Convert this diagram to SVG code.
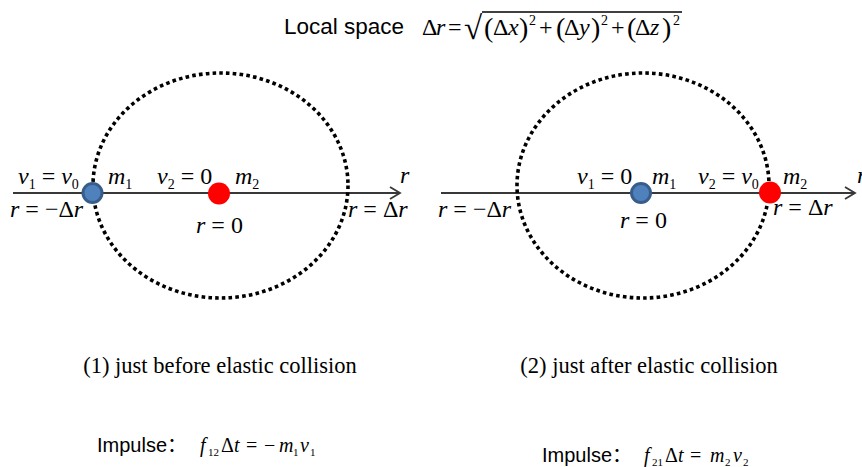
<svg xmlns="http://www.w3.org/2000/svg" width="862" height="467" viewBox="0 0 862 467">
<defs>
<style>
.sans{font-family:"Liberation Sans",Arial,"Noto Sans CJK SC",sans-serif;fill:#000}
.m{font-family:"Liberation Serif","Times New Roman",serif;font-size:24px;fill:#000}
.f{font-family:"Liberation Serif","Times New Roman",serif;font-size:20px;fill:#000}
.cap{font-family:"Liberation Serif","Times New Roman",serif;font-size:22.5px;fill:#000}
.i{font-style:italic}
.s{font-size:14px}
.ss{font-size:11px}
.sp{font-size:14px}
.pa{font-size:28px}
.ell{fill:none;stroke:#000;stroke-width:3.6;stroke-dasharray:3.6 3.2}
.axis{fill:none;stroke:#383838;stroke-width:1.8}
.blue{fill:#4f81bd;stroke:#385d8a;stroke-width:3}
.red{fill:#ff0000}
</style>
<marker id="arr" markerWidth="14" markerHeight="14" refX="11" refY="7" orient="auto" markerUnits="userSpaceOnUse">
<path d="M1,1 L11,7 L1,13" fill="none" stroke="#383838" stroke-width="1.8"/>
</marker>
</defs>
<rect width="862" height="467" fill="#fff"/>

<g id="title">
<text class="sans" x="284" y="34" font-size="22.5">Local space</text>
<g class="m">
<text x="422" y="35">Δ</text>
<text x="436" y="35" class="i">r</text>
<text x="448" y="35">=</text>
<text x="464" y="39" font-size="33">√</text>
<line x1="482" y1="12" x2="682" y2="12" stroke="#000" stroke-width="1.3"/>
<text x="484" y="37" class="pa">(</text><text x="493" y="35">Δ</text><text x="508" y="35" class="i">x</text><text x="519" y="37" class="pa">)</text><text x="529" y="25" class="sp">2</text>
<text x="539" y="35">+</text>
<text x="556" y="37" class="pa">(</text><text x="564" y="35">Δ</text><text x="579" y="35" class="i">y</text><text x="591" y="37" class="pa">)</text><text x="601" y="25" class="sp">2</text>
<text x="611" y="35">+</text>
<text x="627" y="37" class="pa">(</text><text x="635" y="35">Δ</text><text x="650" y="35" class="i">z</text><text x="662" y="37" class="pa">)</text><text x="673" y="25" class="sp">2</text>
</g>
</g>

<g id="connectors">
<line id="axis-1" class="axis" x1="13" y1="193" x2="400" y2="193" marker-end="url(#arr)"/>
<line id="axis-2" class="axis" x1="441" y1="193" x2="855" y2="193" marker-end="url(#arr)"/>
</g>

<g id="space-1">
<ellipse class="ell" cx="220.5" cy="185.5" rx="127.5" ry="112.5"/>
</g>
<g id="space-2">
<ellipse class="ell" cx="643" cy="185.5" rx="126" ry="112.5"/>
</g>

<g id="m1-before">
<circle class="blue" cx="92.5" cy="193" r="9.5"/>
<text class="m" x="18" y="184"><tspan class="i">v</tspan><tspan class="s" dy="5">1</tspan><tspan dy="-5"> = </tspan><tspan class="i">v</tspan><tspan class="s" dy="5">0</tspan></text>
<text class="m" x="108" y="184"><tspan class="i">m</tspan><tspan class="s" dy="5">1</tspan></text>
<text class="m" x="10" y="217"><tspan class="i">r</tspan> = −Δ<tspan class="i">r</tspan></text>
</g>
<g id="m2-before">
<circle class="red" cx="219" cy="193.5" r="11"/>
<text class="m" x="157" y="184"><tspan class="i">v</tspan><tspan class="s" dy="5">2</tspan><tspan dy="-5"> = 0</tspan></text>
<text class="m" x="235" y="184"><tspan class="i">m</tspan><tspan class="s" dy="5">2</tspan></text>
<text class="m" x="196" y="233"><tspan class="i">r</tspan> = 0</text>
<text class="m i" x="400" y="183">r</text>
<text class="m" x="348" y="217"><tspan class="i">r</tspan> = Δ<tspan class="i">r</tspan></text>
</g>

<g id="m1-after">
<circle class="blue" cx="641" cy="193" r="9.5"/>
<text class="m" x="577" y="184"><tspan class="i">v</tspan><tspan class="s" dy="5">1</tspan><tspan dy="-5"> = 0</tspan></text>
<text class="m" x="652" y="184"><tspan class="i">m</tspan><tspan class="s" dy="5">1</tspan></text>
<text class="m" x="620" y="228"><tspan class="i">r</tspan> = 0</text>
<text class="m" x="438" y="217"><tspan class="i">r</tspan> = −Δ<tspan class="i">r</tspan></text>
</g>
<g id="m2-after">
<circle class="red" cx="770" cy="192.5" r="11"/>
<text class="m" x="698" y="184"><tspan class="i">v</tspan><tspan class="s" dy="5">2</tspan><tspan dy="-5"> = </tspan><tspan class="i">v</tspan><tspan class="s" dy="5">0</tspan></text>
<text class="m" x="783" y="184"><tspan class="i">m</tspan><tspan class="s" dy="5">2</tspan></text>
<text class="m" x="773" y="215"><tspan class="i">r</tspan> = Δ<tspan class="i">r</tspan></text>
<text class="m i" x="857" y="183">r</text>
</g>

<g id="captions">
<text class="cap" x="220" y="373" text-anchor="middle">(1) just before elastic collision</text>
<text class="cap" x="649" y="373" text-anchor="middle">(2) just after elastic collision</text>
</g>

<g id="impulse-1">
<text class="sans" x="97" y="452" font-size="20">Impulse：</text>
<g class="f">
<text x="200" y="452" class="i">f</text><text x="208" y="456" class="ss">12</text>
<text x="221" y="452">Δ</text><text x="234" y="452" class="i">t</text>
<text x="246" y="452">=</text><text x="264" y="452">−</text>
<text x="279" y="452" class="i">m</text><text x="293" y="456" class="ss">1</text>
<text x="300" y="452" class="i">v</text><text x="310" y="456" class="ss">1</text>
</g>
</g>
<g id="impulse-2">
<text class="sans" x="542" y="462" font-size="20">Impulse：</text>
<g class="f">
<text x="644" y="462" class="i">f</text><text x="652" y="466" class="ss">21</text>
<text x="665" y="462">Δ</text><text x="678" y="462" class="i">t</text>
<text x="690" y="462">=</text>
<text x="710" y="462" class="i">m</text><text x="725" y="466" class="ss">2</text>
<text x="733" y="462" class="i">v</text><text x="743" y="466" class="ss">2</text>
</g>
</g>
</svg>
